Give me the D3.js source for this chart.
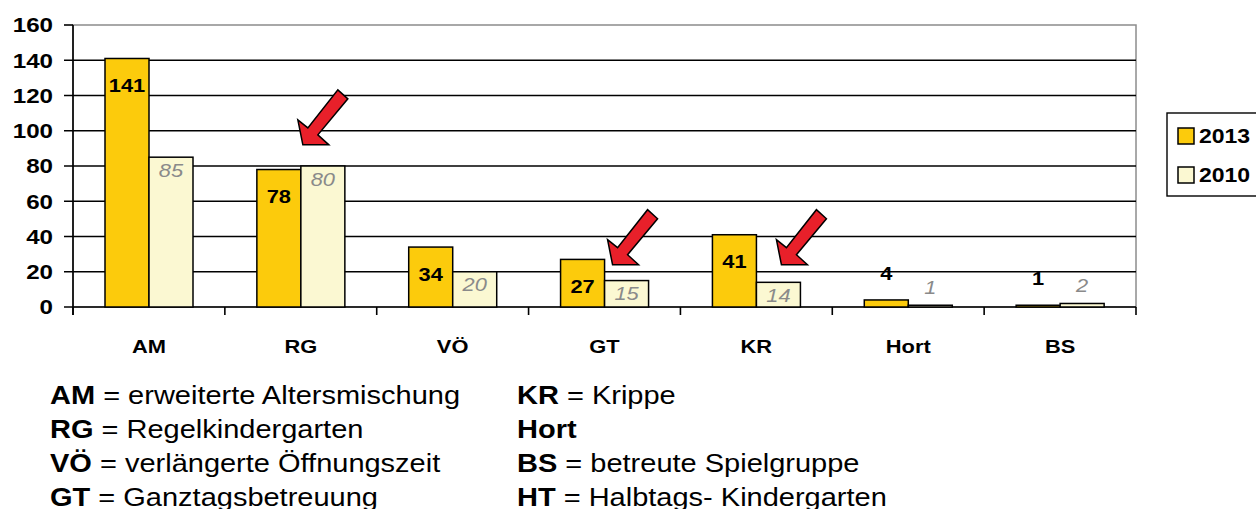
<!DOCTYPE html>
<html>
<head>
<meta charset="utf-8">
<script src="https://cdn.jsdelivr.net/npm/d3@7"></script>
<style>
body { margin: 0; background: #fff; }
svg { font-family: "Liberation Sans", Arial, sans-serif; display: block; }
</style>
</head>
<body>
<svg width="1256" height="509"></svg>
<script>
var categories = ["AM", "RG", "VÖ", "GT", "KR", "Hort", "BS"];
var values2013 = [141, 78, 34, 27, 41, 4, 1];
var values2010 = [85, 80, 20, 15, 14, 1, 2];
var seriesNames = ["2013", "2010"];
var yTicks = [0, 20, 40, 60, 80, 100, 120, 140, 160];
var arrows = [
	{ cat: "RG", dx: 78, value: 92 },
	{ cat: "GT", dx: 84, value: 24 },
	{ cat: "KR", dx: 101, value: 24 }
];
var notesLeft = [["AM", " = erweiterte Altersmischung"], ["RG", " = Regelkindergarten"], ["VÖ", " = verlängerte Öffnungszeit"], ["GT", " = Ganztagsbetreuung"]];
var notesRight = [["KR", " = Krippe"], ["Hort", ""], ["BS", " = betreute Spielgruppe"], ["HT", " = Halbtags- Kindergarten"]];

var svg = d3.select("svg"),
	pLeft = 73, pRight = 1136, pTop = 25, pBottom = 307,
	sx = 1.15; // text is drawn a bit wider than the font

var colors = ["#FCCB0C", "#FBF8D2"];

var x0 = d3.scaleBand().domain(categories).range([pLeft, pRight]);
var x1 = d3.scaleBand().domain(seriesNames).range([32, 120]);
var y = d3.scaleLinear().domain([0, 160]).range([pBottom, pTop]);

function place(x, yy) {
	return "translate(" + x + "," + yy + ") scale(" + sx + ",1)";
}

// plot area border (gray)
svg.append("rect")
	.attr("x", pLeft).attr("y", pTop)
	.attr("width", pRight - pLeft).attr("height", pBottom - pTop)
	.attr("fill", "none").attr("stroke", "#8c8c8c").attr("stroke-width", 1.5);

// gridlines + left ticks
svg.append("g").selectAll("line")
	.data(yTicks.slice(0, -1))
	.enter().append("line")
	.attr("x1", pLeft - 9).attr("x2", pRight)
	.attr("y1", function (d) { return y(d); })
	.attr("y2", function (d) { return y(d); })
	.attr("stroke", "#000").attr("stroke-width", 1.6);
svg.append("line").attr("x1", pLeft - 9).attr("x2", pLeft)
	.attr("y1", y(160)).attr("y2", y(160))
	.attr("stroke", "#000").attr("stroke-width", 1.6);

// y labels
svg.append("g").selectAll("text")
	.data(yTicks)
	.enter().append("text")
	.attr("transform", function (d) { return place(53, y(d)); })
	.attr("dy", "0.35em")
	.attr("text-anchor", "end")
	.attr("font-size", 21).attr("font-weight", "bold")
	.text(function (d) { return d; });

// left axis
svg.append("line").attr("x1", pLeft).attr("x2", pLeft)
	.attr("y1", pTop).attr("y2", pBottom + 8)
	.attr("stroke", "#000").attr("stroke-width", 1.6);

// bottom ticks
var bounds = categories.map(function (c) { return x0(c); }).concat([pRight]);
svg.append("g").selectAll("line")
	.data(bounds)
	.enter().append("line")
	.attr("x1", function (d) { return d; }).attr("x2", function (d) { return d; })
	.attr("y1", pBottom).attr("y2", pBottom + 8)
	.attr("stroke", "#000").attr("stroke-width", 1.6);

// x labels
svg.append("g").selectAll("text")
	.data(categories)
	.enter().append("text")
	.attr("transform", function (d) { return place(x0(d) + x0.bandwidth() / 2, 346); })
	.attr("dy", "0.35em")
	.attr("text-anchor", "middle")
	.attr("font-size", 19).attr("font-weight", "bold")
	.text(function (d) { return d; });

// bars
var rows = categories.map(function (c, i) {
	return { cat: c, vals: [values2013[i], values2010[i]] };
});
var groups = svg.append("g").selectAll("g")
	.data(rows)
	.enter().append("g")
	.attr("transform", function (d) { return "translate(" + x0(d.cat) + ",0)"; });

function cells(d) {
	return d.vals.map(function (v, j) { return { s: seriesNames[j], v: v, j: j }; });
}

groups.selectAll("rect")
	.data(cells)
	.enter().append("rect")
	.attr("x", function (d) { return x1(d.s); })
	.attr("y", function (d) { return y(d.v); })
	.attr("width", x1.bandwidth())
	.attr("height", function (d) { return pBottom - y(d.v); })
	.attr("fill", function (d) { return colors[d.j]; })
	.attr("stroke", "#000").attr("stroke-width", 1.5);

// value labels
groups.selectAll("text")
	.data(cells)
	.enter().append("text")
	.attr("transform", function (d) {
		var h = pBottom - y(d.v), ty;
		if (d.j == 0) ty = h > 40 ? y(d.v) + 27 : y(d.v) - 27;
		else ty = h > 20 ? y(d.v) + 13 : y(d.v) - 18;
		return place(x1(d.s) + x1.bandwidth() / 2, ty);
	})
	.attr("dy", "0.35em")
	.attr("text-anchor", "middle")
	.attr("font-size", 19)
	.attr("font-weight", function (d) { return d.j == 0 ? "bold" : "normal"; })
	.attr("font-style", function (d) { return d.j == 0 ? "normal" : "italic"; })
	.attr("fill", function (d) { return d.j == 0 ? "#000" : "#8a8a8a"; })
	.text(function (d) { return d.v; });

// arrows
var arrowShape = [[0, 0], [26, 0], [15, -10], [45, -46], [35, -55], [5, -17], [-5, -25]];
svg.append("g").selectAll("path")
	.data(arrows)
	.enter().append("path")
	.attr("transform", function (d) { return "translate(" + (x0(d.cat) + d.dx) + "," + y(d.value) + ")"; })
	.attr("d", d3.line()(arrowShape) + "Z")
	.attr("fill", "#E8202A").attr("stroke", "#000").attr("stroke-width", 1.5)
	.attr("stroke-linejoin", "miter");

// legend
var lg = svg.append("g").attr("transform", "translate(1167,113)");
lg.append("rect").attr("width", 100).attr("height", 83)
	.attr("fill", "#fff").attr("stroke", "#000").attr("stroke-width", 1.4);
seriesNames.forEach(function (s, i) {
	lg.append("rect").attr("x", 11).attr("y", 15 + i * 39).attr("width", 16).attr("height", 16)
		.attr("fill", colors[i]).attr("stroke", "#000").attr("stroke-width", 1.5);
	lg.append("text").attr("transform", place(32, 23 + i * 39)).attr("dy", "0.35em")
		.attr("font-size", 20).attr("font-weight", "bold").text(s);
});

// notes
function notes(list, xpos) {
	var t = svg.append("g").selectAll("text")
		.data(list)
		.enter().append("text")
		.attr("transform", function (d, i) { return "translate(" + xpos + "," + (404 + i * 34) + ") scale(1.16,1)"; })
		.attr("font-size", 25);
	t.append("tspan").attr("font-weight", "bold").text(function (d) { return d[0]; });
	t.append("tspan").text(function (d) { return d[1]; });
}
notes(notesLeft, 50);
notes(notesRight, 517);
</script>
</body>
</html>
